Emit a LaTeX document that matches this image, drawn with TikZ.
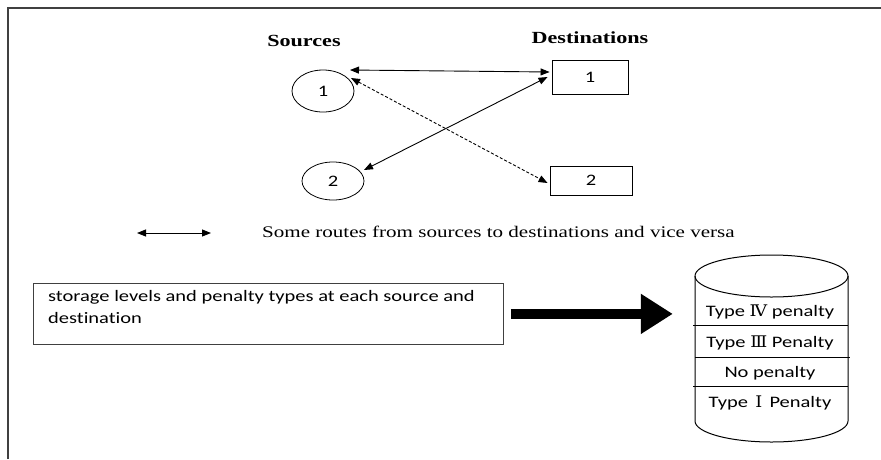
\documentclass[tikz,border=0pt]{standalone}
\usepackage{fontspec}
\setmainfont{Liberation Serif}[FakeStretch=1.3]
\newfontfamily\calfont{Carlito}[FakeStretch=1.28, Ligatures=NoCommon]
\newfontfamily\romfont{DejaVu Serif}[FakeStretch=1.1]
\usetikzlibrary{arrows.meta,shapes.geometric,calc}

\tikzset{
  heading/.style={font=\fontsize{17}{20}\selectfont\bfseries, inner sep=0pt},
  srcnode/.style={ellipse, draw, line width=0.8pt, inner sep=0pt,
    font=\calfont\fontsize{16}{19}\selectfont},
  dstnode/.style={rectangle, draw, line width=0.9pt, inner sep=0pt,
    font=\calfont\fontsize{16}{19}\selectfont},
  route/.style={{Triangle[length=9pt,width=7pt]}-{Triangle[length=9pt,width=7pt]}, line width=0.9pt},
  dashroute/.style={route, dash pattern=on 3pt off 2pt},
  infobox/.style={draw=black!75, line width=0.8pt, anchor=north west,
    minimum width=470pt, minimum height=61pt, inner sep=0pt},
  infotext/.style={anchor=north west, align=left, inner sep=0pt,
    font=\calfont\fontsize{16}{22.5}\selectfont},
  bigarrow/.style={line width=10pt, -{Triangle[length=32pt 0 0,width=38pt 0 0]}},
  cylline/.style={line width=1pt},
  level/.style={inner sep=0pt, font=\calfont\fontsize{16}{19}\selectfont},
  legend/.style={anchor=west, inner sep=0pt, font=\fontsize{16.2}{19}\selectfont},
}

\begin{document}
\begin{tikzpicture}[x=1pt, y=-1pt]
\useasboundingbox (0,0) rectangle (881,459);

% outer frame (top and left edges only)
\draw[line width=2pt, black!75] (8,459) -- (8,8) -- (881,8);

% column headings
\node[heading] (hsrc) at (304,41) {Sources};
\node[heading] (hdst) at (590,38) {Destinations};

% sources and destinations
\node[srcnode, minimum width=62pt, minimum height=42pt] (s1) at (323,91) {1};
\node[srcnode, minimum width=62pt, minimum height=38pt] (s2) at (333,181) {2};
\node[dstnode, minimum width=76pt, minimum height=34pt] (d1) at (590,77) {1};
\node[dstnode, minimum width=82pt, minimum height=29pt] (d2) at (591,180.5) {2};

% routes
\draw[route] ($(s1.center)+(27,-21)$) -- ($(d1.west)+(-2,-5)$);
\draw[route] ($(d1.west)+(-4,0)$) -- ($(s2.center)+(31,-11)$);
\draw[dashroute] ($(s1.center)+(28,-13)$) -- ($(d2.west)+(-2,2.5)$);

% legend
\coordinate (lga) at (137,233);
\coordinate (lgb) at (211,233);
\draw[route] (lga) -- (lgb);
\node[legend] (lgtext) at (262,232) {Some routes from sources to destinations and vice versa};

% storage information box
\node[infobox] (info) at (33,283) {};
\node[infotext] (infotxt) at ($(info.north west)+(15,7)$)
  {storage levels and penalty types at each source and\\destination};

% storage cylinder
\node[minimum width=153pt, minimum height=187pt, inner sep=0pt] (cyl) at (771.5,348.5) {};
\draw[cylline] (771.5,276) ellipse [x radius=76.5, y radius=21];
\draw[cylline] (695,276) -- (695,421) arc[start angle=180, end angle=0, x radius=76.5, y radius=21] -- (848,276);
\draw[line width=0.8pt] (693,325) -- (848,325);
\draw[line width=0.8pt] (695,357) -- (850,357);
\draw[line width=0.8pt] (693,386) -- (848,386);
\node[level] (lv4) at (770,312) {Type {\romfont Ⅳ} penalty};
\node[level] (lv3) at (770,343) {Type {\romfont Ⅲ} Penalty};
\node[level] (lv0) at (770,373) {No penalty};
\node[level] (lv1) at (770,403) {Type \,{\romfont Ⅰ}\, Penalty};

% flow from the box to the cylinder
\draw[bigarrow, shorten <=7pt, shorten >=22pt] (info.east) -- (info.east -| cyl.west);
\end{tikzpicture}
\end{document}
